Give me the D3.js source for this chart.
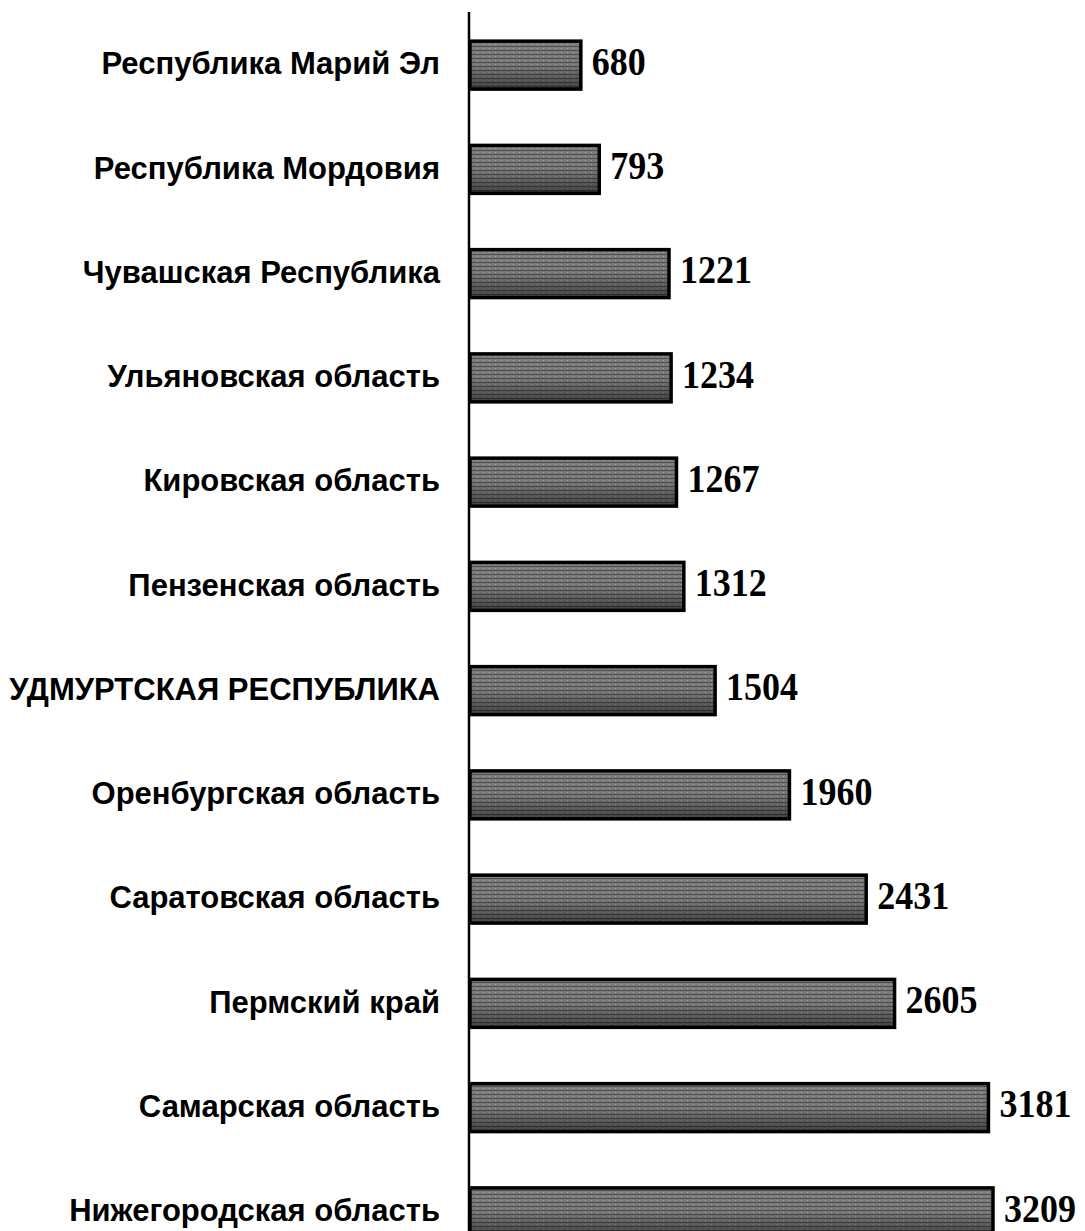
<!DOCTYPE html>
<html><head><meta charset="utf-8">
<script src="https://cdn.jsdelivr.net/npm/d3@7"></script>
<style>body{margin:0;background:#fff}</style>
</head><body>
<script>
const categories = ["Республика Марий Эл","Республика Мордовия","Чувашская Республика","Ульяновская область","Кировская область","Пензенская область","УДМУРТСКАЯ РЕСПУБЛИКА","Оренбургская область","Саратовская область","Пермский край","Самарская область","Нижегородская область"];
const values = [680,793,1221,1234,1267,1312,1504,1960,2431,2605,3181,3209];

const W=1085,H=1231;
const svg=d3.select("body").append("svg").attr("width",W).attr("height",H);
const defs=svg.append("defs");
const pat=defs.append("pattern").attr("id","tex").attr("patternUnits","userSpaceOnUse").attr("width",6).attr("height",4);
pat.append("rect").attr("width",6).attr("height",4).attr("fill","#8c8c8c");
pat.append("rect").attr("y",2).attr("width",6).attr("height",1).attr("fill","#5a5a5a");
pat.append("rect").attr("x",3).attr("y",0).attr("width",1).attr("height",1).attr("fill","#bdbdbd");
const g=defs.append("linearGradient").attr("id","shade").attr("x1",0).attr("y1",0).attr("x2",0).attr("y2",1);
g.append("stop").attr("offset","0%").attr("stop-color","#000").attr("stop-opacity",0.1);
g.append("stop").attr("offset","50%").attr("stop-color","#000").attr("stop-opacity",0.15);
g.append("stop").attr("offset","100%").attr("stop-color","#000").attr("stop-opacity",0.55);

const x=d3.scaleLinear().domain([0,3209]).range([470,993]);
const y=d3.scaleBand().domain(categories).range([13,1264]).paddingInner(0.54).paddingOuter(0.27);

const bars=svg.selectAll("g.bar").data(values).join("g").attr("class","bar");
bars.append("rect").attr("x",x(0)).attr("y",(d,i)=>y(categories[i]))
 .attr("width",d=>x(d)-x(0)).attr("height",y.bandwidth()).attr("fill","url(#tex)");
bars.append("rect").attr("x",x(0)).attr("y",(d,i)=>y(categories[i]))
 .attr("width",d=>x(d)-x(0)).attr("height",y.bandwidth())
 .attr("fill","url(#shade)").attr("stroke","#000").attr("stroke-width",3.5);

svg.append("line").attr("x1",469).attr("x2",469).attr("y1",12).attr("y2",H).attr("stroke","#000").attr("stroke-width",2.5);

svg.selectAll("text.cat").data(categories).join("text").attr("class","cat")
 .attr("x",440).attr("y",d=>y(d)+y.bandwidth()/2).attr("dy","0.3em")
 .attr("text-anchor","end").attr("font-family","Liberation Sans, Arial, sans-serif")
 .attr("font-weight","bold").attr("font-size",31).attr("fill","#000").text(d=>d);

svg.selectAll("text.val").data(values).join("text").attr("class","val")
 .attr("x",d=>x(d)+11).attr("y",(d,i)=>y(categories[i])+y.bandwidth()/2)
 .attr("dy","0.25em")
 .attr("textLength",d=>String(d).length*18).attr("lengthAdjust","spacingAndGlyphs")
 .attr("font-family","Liberation Serif, Times New Roman, serif")
 .attr("font-weight","bold").attr("font-size",39).text(d=>d);
</script>
</body></html>
